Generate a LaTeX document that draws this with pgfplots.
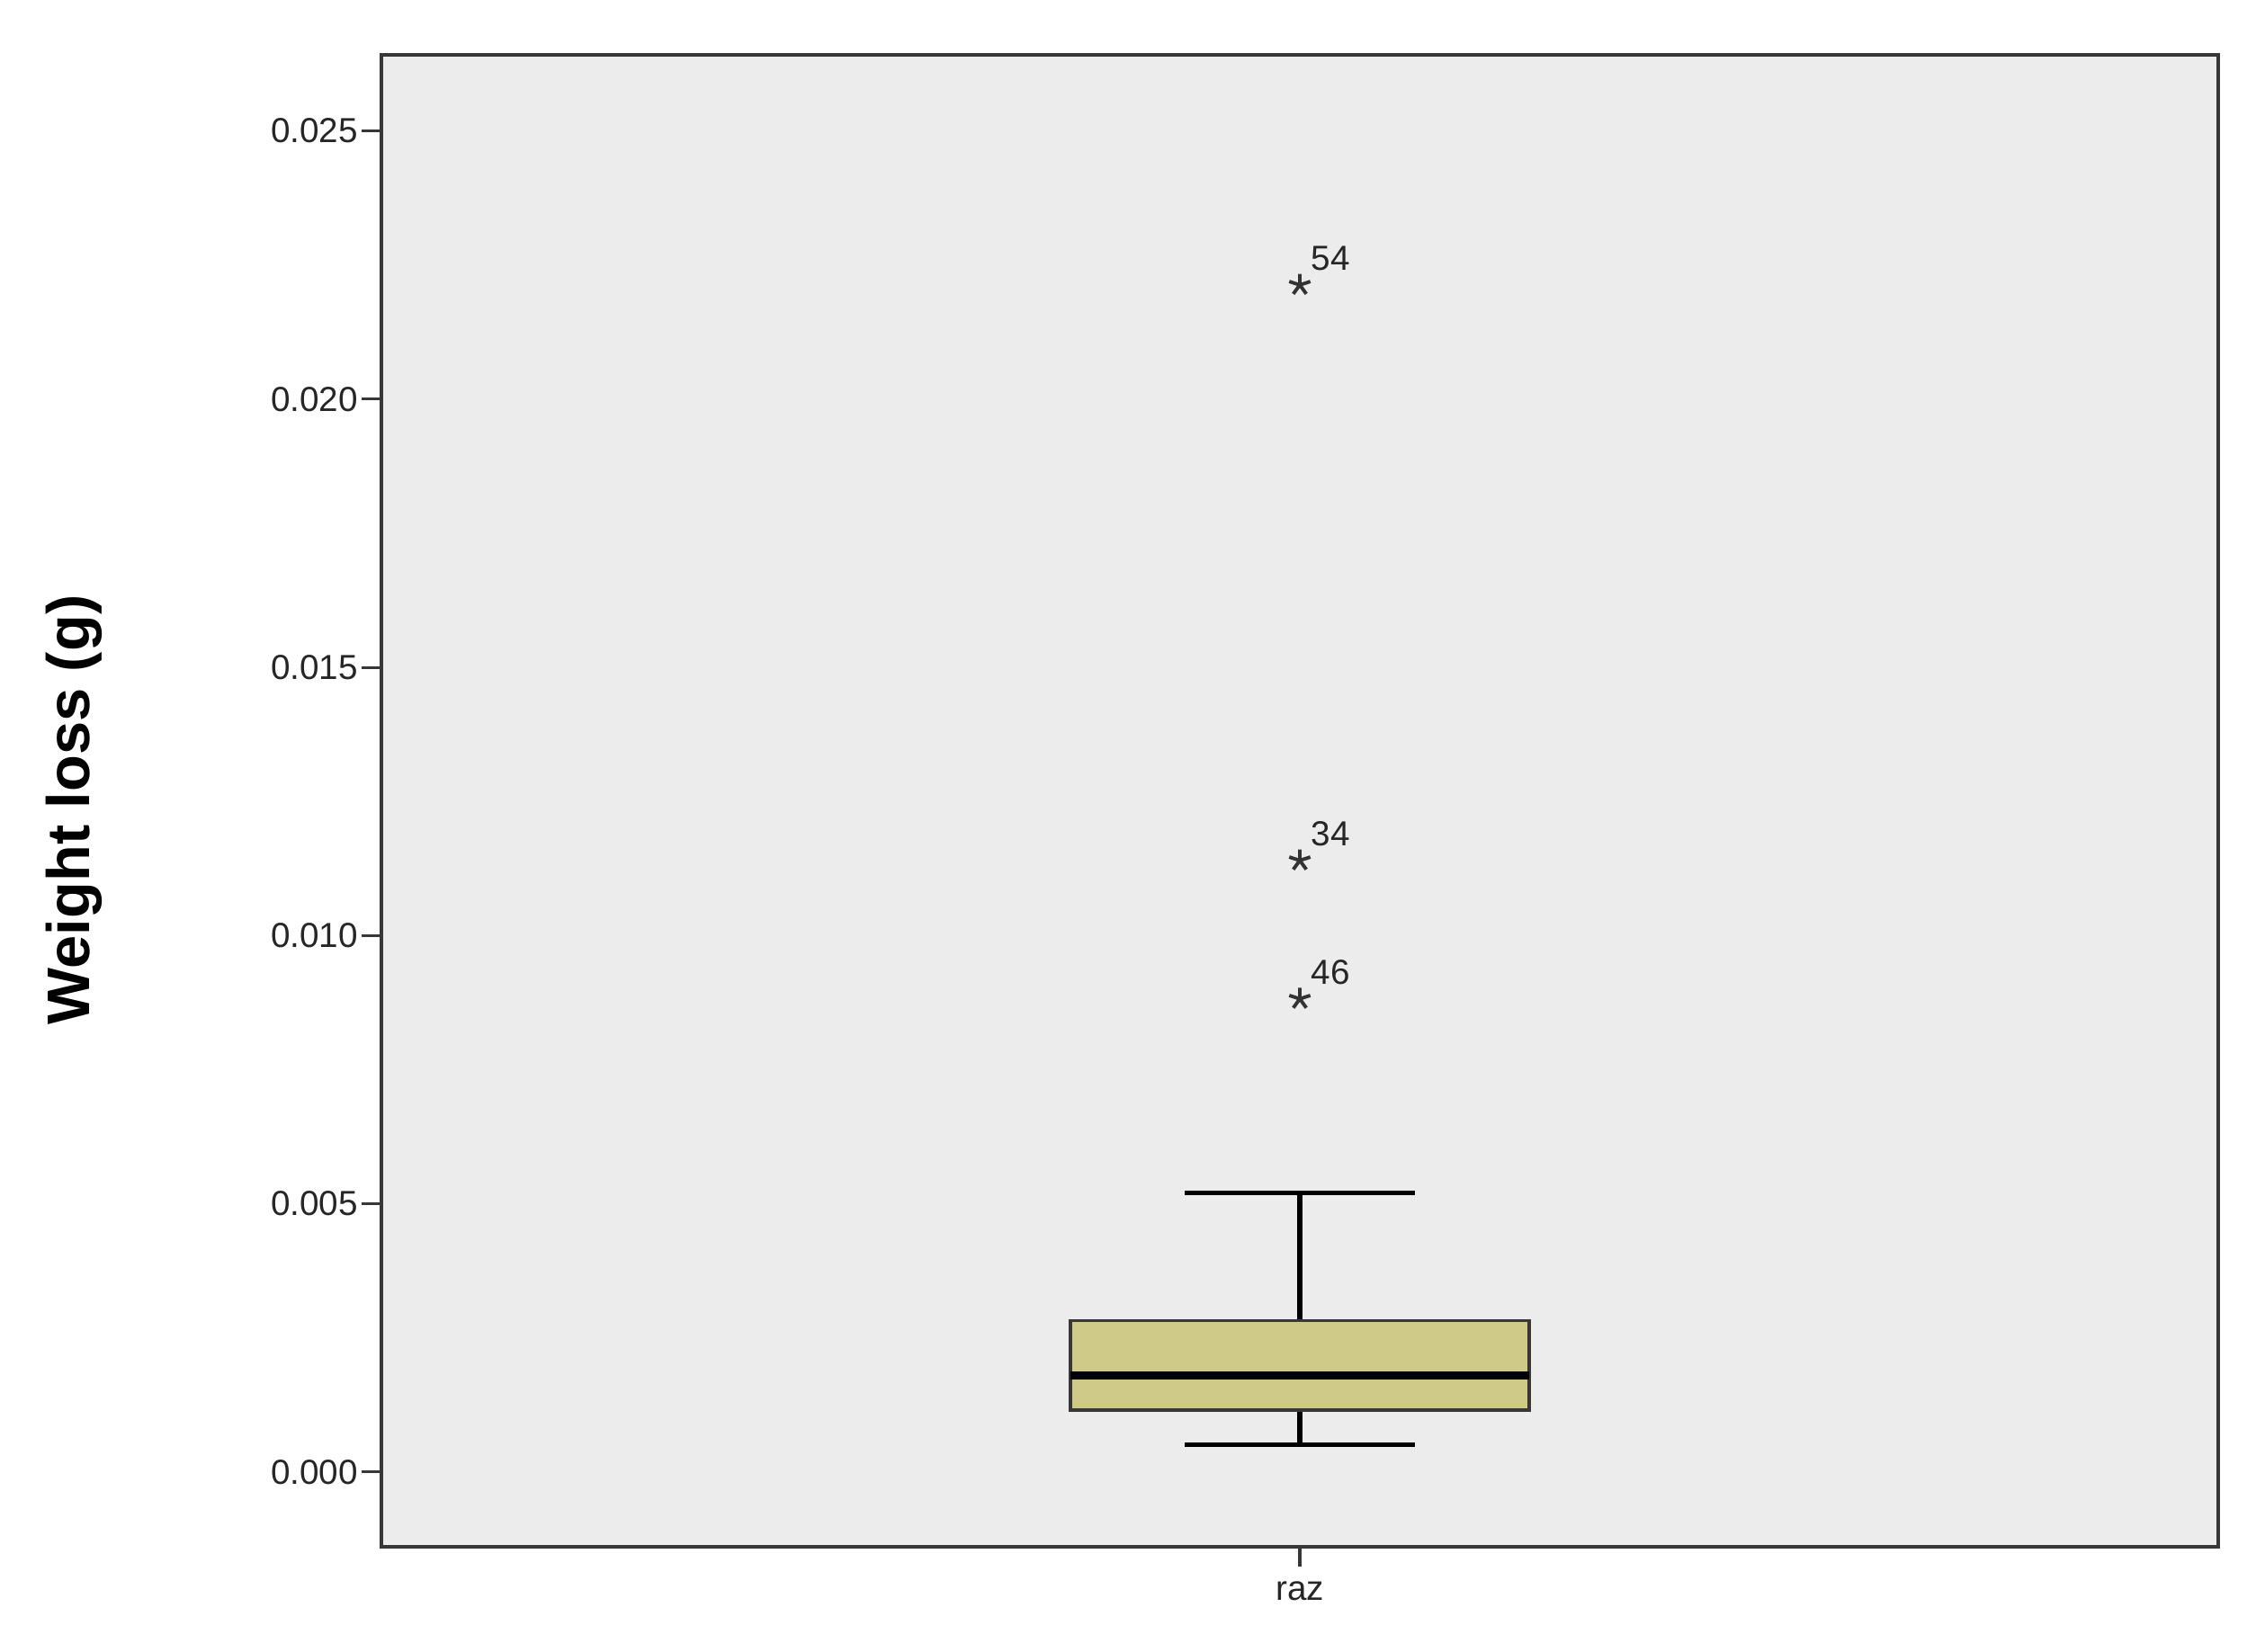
\documentclass[border=0pt]{standalone}
\usepackage{pgfplots}
\pgfplotsset{compat=1.18}
\usepgfplotslibrary{statistics}
\usetikzlibrary{calc}
\usepackage{fontspec}
\setmainfont{Liberation Sans}
\definecolor{bgc}{RGB}{236,236,236}
\definecolor{boxc}{RGB}{208,202,136}
\definecolor{framec}{RGB}{55,55,55}
\begin{document}
\begin{tikzpicture}
\begin{axis}[
  scale only axis,
  width=20.42cm, height=16.59cm,
  xmin=0, xmax=2,
  ymin=-0.001395, ymax=0.02642,
  axis background/.style={fill=bgc},
  axis line style={draw=framec, line width=0.9pt},
  xtick={1}, xticklabels={raz},
  ytick={0,0.005,0.010,0.015,0.020,0.025},
  yticklabels={0.000,0.005,0.010,0.015,0.020,0.025},
  scaled y ticks=false,
  yticklabel style={inner sep=1pt},
  xticklabel style={inner sep=2pt, yshift=-0.09cm},
  tick style={draw=framec, line width=0.9pt},
  tick align=outside,
  major tick length=0.22cm,
  xtick pos=bottom, ytick pos=left,
  tick label style={font=\fontsize{11}{13}\selectfont, text=black!85},
  ylabel={Weight loss (g)},
  every axis y label/.style={at={(axis description cs:-0.1675,0.494)}, rotate=90, anchor=center, font=\fontsize{19}{22}\selectfont\bfseries},
  clip=false,
  boxplot/draw direction=y,
]
\addplot+[
  boxplot prepared={
    draw position=1,
    lower whisker=0.00051,
    lower quartile=0.00115,
    median=0.00180,
    upper quartile=0.00282,
    upper whisker=0.00520,
    box extend=0.5,
    whisker extend=0.25,
    every box/.style={draw=framec, fill=boxc, line width=1pt},
    every whisker/.style={draw=black, line width=1.5pt},
    every median/.style={draw=black, line width=2.6pt},
  },
  draw=black, mark=none,
] coordinates {};
\addplot[
  only marks, mark=star, mark size=3.5pt,
  mark options={line width=1.1pt, draw=black!80},
  nodes near coords, point meta=explicit symbolic,
  every node near coord/.append style={anchor=base west, xshift=0.11cm, yshift=0.16cm, font=\fontsize{11}{13}\selectfont, text=black!85, inner sep=0pt},
] table[meta=label] {
x y label
1 0.02213 54
1 0.01140 34
1 0.00882 46
};
\end{axis}
\path ($(current axis.south west)+(-4.24cm,-1.17cm)$) rectangle ($(current axis.north east)+(0.42cm,0.61cm)$);
\end{tikzpicture}
\end{document}
